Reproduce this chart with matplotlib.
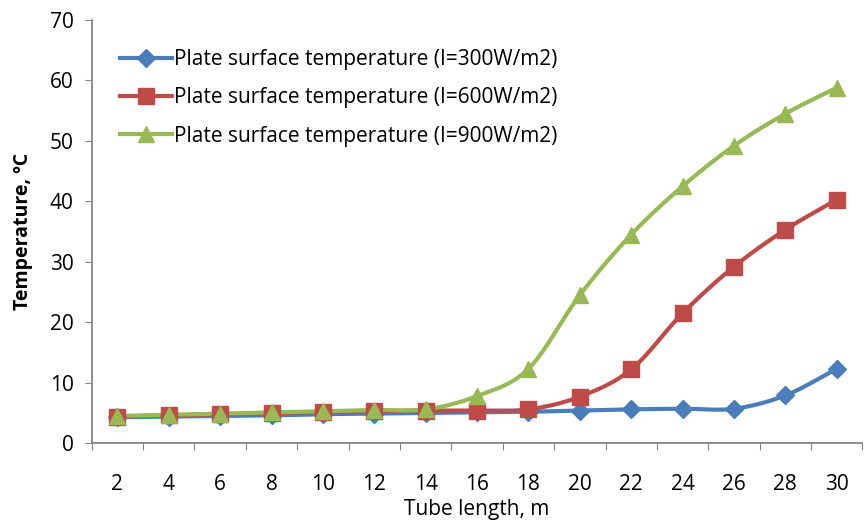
import numpy as np
import matplotlib
matplotlib.use("Agg")
import matplotlib.pyplot as plt
from matplotlib.lines import Line2D

plt.rcParams['font.family'] = ['Open Sans', 'DejaVu Sans']

tube_length = [2, 4, 6, 8, 10, 12, 14, 16, 18, 20, 22, 24, 26, 28, 30]
t_300 = [4.3, 4.4, 4.5, 4.6, 4.8, 4.9, 5.0, 5.1, 5.2, 5.4, 5.6, 5.7, 5.7, 7.9, 12.3]
t_600 = [4.4, 4.6, 4.8, 5.0, 5.2, 5.3, 5.4, 5.4, 5.6, 7.7, 12.2, 21.5, 29.2, 35.3, 40.3]
t_900 = [4.5, 4.7, 4.9, 5.1, 5.3, 5.5, 5.6, 7.8, 12.3, 24.5, 34.5, 42.5, 49.2, 54.5, 58.8]
labels = ["Plate surface temperature (I=300W/m2)",
          "Plate surface temperature (I=600W/m2)",
          "Plate surface temperature (I=900W/m2)"]
colors = ["#4A7EBB", "#BE4B48", "#98B954"]
markers = ["D", "s", "^"]
msizes = [9, 11, 12]


def smooth(x, y, n=20):
    # catmull-rom style curve through the points, like Excel's smoothed line
    x = np.asarray(x, float)
    y = np.asarray(y, float)
    px = np.concatenate([[2 * x[0] - x[1]], x, [2 * x[-1] - x[-2]]])
    py = np.concatenate([[2 * y[0] - y[1]], y, [2 * y[-1] - y[-2]]])
    xs, ys = [], []
    t = np.linspace(0, 1, n)
    for i in range(1, len(px) - 2):
        for P, out in ((px, xs), (py, ys)):
            p0, p1, p2, p3 = P[i - 1], P[i], P[i + 1], P[i + 2]
            m1 = (p2 - p0) / 2
            m2 = (p3 - p1) / 2
            h00 = 2 * t**3 - 3 * t**2 + 1
            h10 = t**3 - 2 * t**2 + t
            h01 = -2 * t**3 + 3 * t**2
            h11 = t**3 - t**2
            out.extend(h00 * p1 + h10 * m1 + h01 * p2 + h11 * m2)
    return np.array(xs), np.array(ys)


fig = plt.figure(figsize=(8.65, 5.27), dpi=100)
ax = fig.add_axes([0.106, 0.159, 0.891, 0.803])

pos = np.arange(len(tube_length))
handles = []
for ys, c, m, ms, lab in zip([t_300, t_600, t_900], colors, markers, msizes, labels):
    sx, sy = smooth(pos, ys)
    ax.plot(sx, sy, color=c, lw=3, solid_capstyle='round', zorder=2)
    ax.plot(pos, ys, ls='none', marker=m, ms=ms, color=c, zorder=3)
    handles.append(Line2D([0], [0], color=c, lw=3, marker=m, ms=ms, label=lab))

ax.set_xlim(-0.5, len(tube_length) - 0.5)
ax.set_ylim(0, 70)
ax.set_yticks(range(0, 71, 10))
ax.set_xticks(np.arange(-0.5, len(tube_length), 1.0))
ax.set_xticklabels([])
ax.set_xticks(pos, minor=True)
ax.set_xticklabels([str(v) for v in tube_length], minor=True)
ax.tick_params(axis='x', which='minor', length=0, pad=22, labelsize=15)
ax.tick_params(axis='x', which='major', length=5, direction='out', color='#868686')
ax.tick_params(axis='y', length=5, direction='out', color='#868686', labelsize=15, pad=8)

for s in ['top', 'right']:
    ax.spines[s].set_visible(False)
for s in ['left', 'bottom']:
    ax.spines[s].set_color('#868686')
    ax.spines[s].set_linewidth(1.3)

ax.set_xlabel("Tube length, m", fontsize=15, labelpad=3)
ax.set_ylabel("Temperature, ºC", fontsize=14, fontweight='bold', labelpad=12)

ax.legend(handles=handles, loc='upper left', bbox_to_anchor=(0.012, 0.975),
          frameon=False, fontsize=15, handlelength=2.5, handletextpad=0.1,
          labelspacing=0.82)

fig.savefig("out.png", dpi=100)
